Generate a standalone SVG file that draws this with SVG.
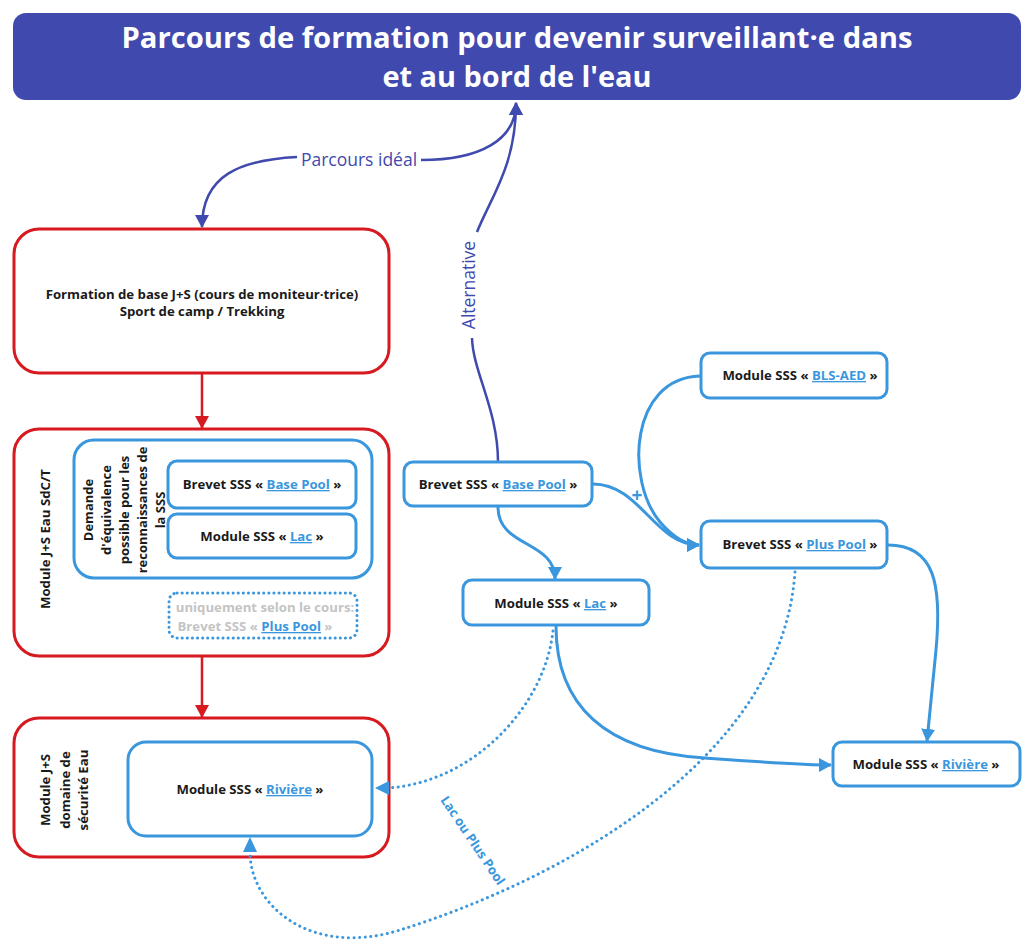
<svg xmlns="http://www.w3.org/2000/svg" width="1023" height="944" viewBox="0 0 1023 944">
<style>
.t{font-family:"Open Sans","Liberation Sans",sans-serif;font-weight:700;font-size:13.2px;fill:#1a1a1a;text-anchor:middle}
.s{font-size:13px}
.lk{fill:#3a97dd;text-decoration:underline}
.gr{fill:#c4c4c4}
.rb{fill:#fff;stroke:#d71920;stroke-width:3}
.bb{fill:#fff;stroke:#3a97dd;stroke-width:3}
.db{fill:#fff;stroke:#3a97dd;stroke-width:3;stroke-dasharray:0.1 5;stroke-linecap:round}
.cb{fill:none;stroke:#3a97dd;stroke-width:3}
.cd{fill:none;stroke:#3a97dd;stroke-width:3;stroke-dasharray:0.1 5.5;stroke-linecap:round}
.cr{fill:none;stroke:#d71920;stroke-width:2.5}
.cn{fill:none;stroke:#3f49ae;stroke-width:2.5}
.lbl{font-family:"Open Sans","Liberation Sans",sans-serif;font-size:17.5px;fill:#3f49ae;text-anchor:middle}
.hb{fill:#3a97dd}
</style>
<defs>
<marker id="ab" markerUnits="userSpaceOnUse" markerWidth="16" markerHeight="16" refX="12" refY="7" orient="auto"><path d="M0,0 L13,7 L0,14 Z" fill="#3a97dd"/></marker>
<marker id="ar" markerUnits="userSpaceOnUse" markerWidth="16" markerHeight="16" refX="12" refY="7" orient="auto"><path d="M0,0 L13,7 L0,14 Z" fill="#d71920"/></marker>
<marker id="an" markerUnits="userSpaceOnUse" markerWidth="16" markerHeight="16" refX="12" refY="7" orient="auto"><path d="M0,0 L13,7 L0,14 Z" fill="#3f49ae"/></marker>
</defs>

<g id="title">
<rect x="13" y="13" width="1008" height="87" rx="13" fill="#4049ae"/>
<text x="517" y="48" font-family="'Open Sans','Liberation Sans',sans-serif" font-weight="700" font-size="29" fill="#fff" text-anchor="middle" textLength="791" lengthAdjust="spacingAndGlyphs">Parcours de formation pour devenir surveillant·e dans</text>
<text x="517" y="87" font-family="'Open Sans','Liberation Sans',sans-serif" font-weight="700" font-size="29" fill="#fff" text-anchor="middle" textLength="269" lengthAdjust="spacingAndGlyphs">et au bord de l'eau</text>
</g>

<g id="formation-base">
<rect class="rb" x="14" y="229" width="375" height="144" rx="25"/>
<text class="t" x="202" y="299">Formation de base J+S (cours de moniteur·trice)</text>
<text class="t" x="202" y="316">Sport de camp / Trekking</text>
</g>

<g id="module-eau-sdct">
<rect class="rb" x="14" y="429" width="375" height="227" rx="25"/>
<text class="t" transform="translate(50,539) rotate(-90)" font-size="13.5">Module J+S Eau SdC/T</text>
</g>

<g id="module-domaine-eau">
<rect class="rb" x="14" y="718" width="375" height="139" rx="25"/>
<text class="t" transform="translate(50,790) rotate(-90)">Module J+S</text>
<text class="t" transform="translate(70,790) rotate(-90)">domaine de</text>
<text class="t" transform="translate(88,790) rotate(-90)">sécurité Eau</text>
</g>

<g id="connectors">
<path class="cn" d="M421,160 C480,160 516,140 516,103" marker-end="url(#an)"/>
<path class="cn" d="M297,157 C240,160 202,175 202,227" marker-end="url(#an)"/>
<text class="lbl" x="359" y="166">Parcours idéal</text>
<path class="cn" d="M498,462 C498,410 473,372 472,338"/>
<path class="cn" d="M477,232 C492,195 516,165 516,103" marker-end="url(#an)"/>
<text class="lbl" transform="translate(475,285) rotate(-90)">Alternative</text>
<path class="cr" d="M202,373 L202,428" marker-end="url(#ar)"/>
<path class="cr" d="M202,656 L202,717" marker-end="url(#ar)"/>
<path class="cb" d="M498,507 C498,548 555,540 555,579" marker-end="url(#ab)"/>
<path class="cb" d="M593,484 C640,484 655,545 699,545" marker-end="url(#ab)"/>
<path class="cb" d="M700,376 C630,378 625,480 660,522 C672,536 685,545 699,545" marker-end="url(#ab)"/>
<text x="637" y="502" font-family="'Open Sans','Liberation Sans',sans-serif" font-size="19" font-weight="700" fill="#3a97dd" text-anchor="middle">+</text>
<path class="cb" d="M888,545 C935,545 942,585 936,650 L927,741" marker-end="url(#ab)"/>
<path class="cb" d="M556,626 C556,705 605,752 705,758 C760,762 800,765 831,765" marker-end="url(#ab)"/>
<path class="cd" d="M553,631 C545,705 475,782 388,788"/>
<polygon class="hb" points="375,788 389,781 389,795"/>
<path class="cd" d="M795,572 C782,760 560,880 400,930 C310,958 250,905 250,852"/>
<polygon class="hb" points="250,837 243,852 257,852"/>
<text transform="translate(469,843) rotate(56)" font-family="'Open Sans','Liberation Sans',sans-serif" font-size="13" font-weight="700" fill="#3a97dd" text-anchor="middle">Lac ou Plus Pool</text>
</g>

<g id="equivalence">
<rect class="bb" x="74" y="440" width="298" height="138" rx="20"/>
<text transform="translate(93,510) rotate(-90)" class="t s">Demande</text>
<text transform="translate(111,510) rotate(-90)" class="t s">d'équivalence</text>
<text transform="translate(129,510) rotate(-90)" class="t s">possible pour les</text>
<text transform="translate(147,510) rotate(-90)" class="t s">reconnaissances de</text>
<text transform="translate(165,510) rotate(-90)" class="t s">la SSS</text>
</g>

<g id="eq-base-pool">
<rect class="bb" x="168" y="461" width="188" height="47" rx="9"/>
<text class="t" x="262" y="489">Brevet SSS « <tspan class="lk">Base Pool</tspan> »</text>
</g>

<g id="eq-lac">
<rect class="bb" x="168" y="514" width="188" height="44" rx="9"/>
<text class="t" x="262" y="541">Module SSS « <tspan class="lk">Lac</tspan> »</text>
</g>

<g id="eq-plus-pool">
<rect class="db" x="169" y="593" width="188" height="45" rx="8"/>
<text class="t gr" x="265" y="612">uniquement selon le cours:</text>
<text class="t gr" x="255" y="631">Brevet SSS « <tspan class="lk">Plus Pool</tspan> »</text>
</g>

<g id="riviere-left">
<rect class="bb" x="128" y="742" width="244" height="94" rx="18"/>
<text class="t" x="250" y="794">Module SSS « <tspan class="lk">Rivière</tspan> »</text>
</g>

<g id="base-pool">
<rect class="bb" x="404" y="462" width="188" height="44" rx="9"/>
<text class="t" x="498" y="489">Brevet SSS « <tspan class="lk">Base Pool</tspan> »</text>
</g>

<g id="lac">
<rect class="bb" x="463" y="580" width="186" height="45" rx="9"/>
<text class="t" x="556" y="608">Module SSS « <tspan class="lk">Lac</tspan> »</text>
</g>

<g id="bls-aed">
<rect class="bb" x="701" y="353" width="186" height="45" rx="9"/>
<text class="t" x="800" y="380">Module SSS « <tspan class="lk">BLS-AED</tspan> »</text>
</g>

<g id="plus-pool">
<rect class="bb" x="701" y="521" width="186" height="47" rx="9"/>
<text class="t" x="800" y="549">Brevet SSS « <tspan class="lk">Plus Pool</tspan> »</text>
</g>

<g id="riviere-right">
<rect class="bb" x="833" y="742" width="187" height="44" rx="9"/>
<text class="t" x="926" y="769">Module SSS « <tspan class="lk">Rivière</tspan> »</text>
</g>
</svg>
